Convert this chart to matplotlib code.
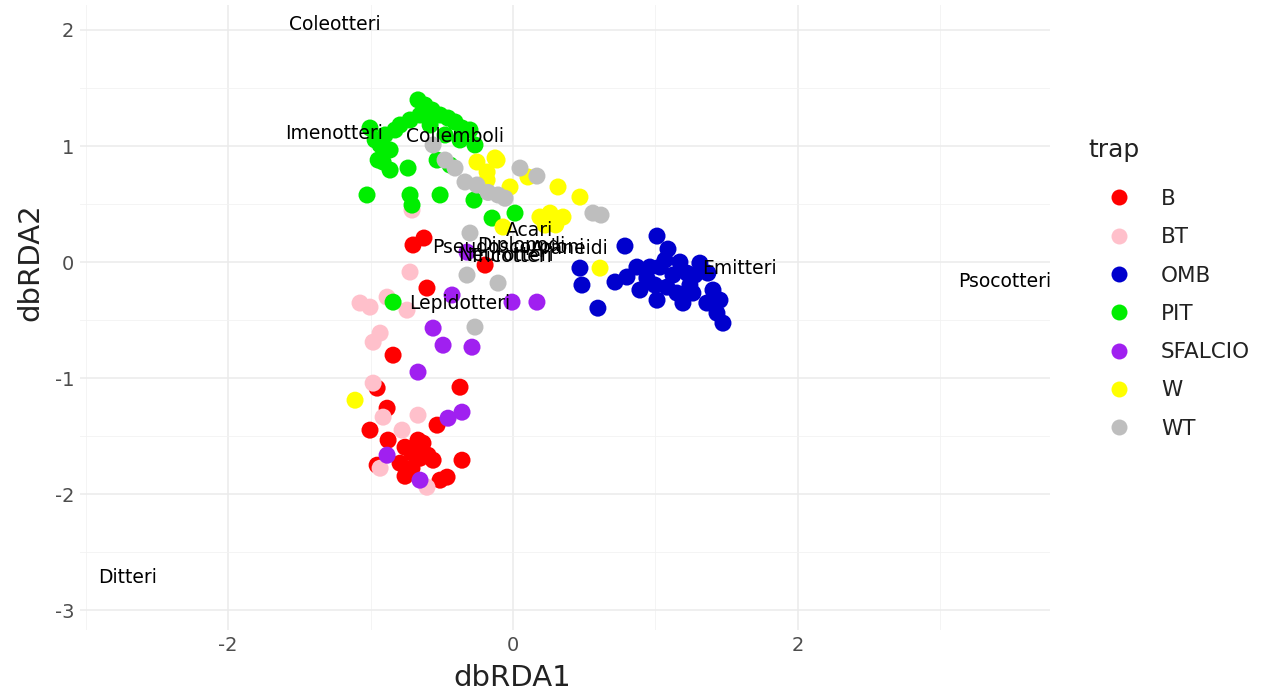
import matplotlib
matplotlib.use('Agg')
from matplotlib import pyplot as plt
from matplotlib.lines import Line2D

plt.rcParams['axes.unicode_minus'] = False

# ============================================================
# DONNEES (scores dbRDA)
# ============================================================
B_x = [-0.702, -0.625, -0.196, -0.604, -0.842, -0.954, -0.372, -0.884, -1.004, -0.533,
       -0.877, -0.758, -0.709, -0.632, -0.596, -0.793, -0.709, -0.758, -0.561, -0.463,
       -0.358, -0.512, -0.954, -0.667, -0.653]
B_y = [0.147, 0.207, -0.026, -0.224, -0.802, -1.086, -1.078, -1.259, -1.448, -1.405,
       -1.534, -1.595, -1.647, -1.560, -1.664, -1.733, -1.776, -1.845, -1.707, -1.853,
       -1.707, -1.879, -1.750, -1.534, -1.690]

BT_x = [-0.723, -1.074, -1.004, -0.884, -0.744, -0.933, -0.982, -0.982, -0.667, -0.912,
        -0.779, -0.933, -0.604, -0.709]
BT_y = [-0.086, -0.353, -0.388, -0.302, -0.414, -0.612, -0.690, -1.043, -1.319, -1.336,
        -1.448, -1.776, -1.940, 0.448]

OMB_x = [0.786, 1.011, 1.088, 0.470, 0.484, 0.596, 0.716, 0.800, 0.870, 0.940,
         0.961, 1.032, 1.123, 0.891, 1.011, 1.151, 1.221, 1.312, 1.368, 1.404,
         1.361, 1.453, 1.432, 1.474, 1.263, 1.193, 1.081, 1.067, 1.172, 1.277,
         0.996, 1.242]
OMB_y = [0.138, 0.224, 0.112, -0.052, -0.198, -0.397, -0.172, -0.129, -0.043, -0.138,
         -0.043, -0.043, -0.112, -0.241, -0.328, -0.267, -0.095, -0.009, -0.095, -0.241,
         -0.353, -0.328, -0.440, -0.526, -0.267, -0.353, -0.216, 0.017, 0.000, -0.112,
         -0.198, -0.198]

PIT_x = [-0.667, -0.618, -0.568, -0.512, -0.456, -0.407, -0.358, -0.653, -0.723, -0.793,
         -0.828, -0.898, -1.004, -0.968, -0.933, -0.863, -0.947, -0.582, -0.477, -0.372,
         -0.302, -0.267, -0.912, -0.737, -0.533, -0.442, -1.025, -0.723, -0.709, -0.512,
         -0.274, -0.147, 0.014, -0.863, -0.842]
PIT_y = [1.397, 1.353, 1.310, 1.267, 1.241, 1.207, 1.155, 1.267, 1.224, 1.181,
         1.138, 1.095, 1.155, 1.052, 1.009, 0.966, 0.879, 1.181, 1.095, 1.052,
         1.138, 1.009, 0.862, 0.810, 0.879, 0.836, 0.578, 0.578, 0.491, 0.578,
         0.534, 0.379, 0.422, 0.793, -0.345]

SFALCIO_x = [-0.428, -0.007, 0.168, -0.561, -0.491, -0.288, -0.667, -0.456, -0.358, -0.884,
             -0.653, -0.323]
SFALCIO_y = [-0.284, -0.345, -0.345, -0.569, -0.716, -0.733, -0.948, -1.345, -1.293, -1.664,
             -1.879, 0.086]

W_x = [-0.253, -0.126, -0.182, -0.021, 0.105, 0.316, 0.470, 0.260, 0.351, 0.189,
       -0.070, -0.182, -0.112, 0.225, 0.611, -1.109, 0.300]
W_y = [0.862, 0.897, 0.707, 0.647, 0.733, 0.647, 0.560, 0.422, 0.388, 0.388,
       0.302, 0.776, 0.879, 0.319, -0.052, -1.190, 0.320]

WT_x = [-0.561, -0.477, -0.407, -0.337, -0.253, -0.105, 0.049, 0.168, 0.561, 0.618,
        -0.302, -0.323, -0.105, -0.267, -0.175, -0.056]
WT_y = [1.009, 0.879, 0.810, 0.690, 0.664, 0.578, 0.810, 0.741, 0.422, 0.405,
        0.250, -0.112, -0.181, -0.560, 0.600, 0.550]

traps = ['B', 'BT', 'OMB', 'PIT', 'SFALCIO', 'W', 'WT']
trap_x = [B_x, BT_x, OMB_x, PIT_x, SFALCIO_x, W_x, WT_x]
trap_y = [B_y, BT_y, OMB_y, PIT_y, SFALCIO_y, W_y, WT_y]
trap_colors = ['#FF0000', '#FFC0CB', '#0000CD', '#00EE00', '#A020F0', '#FFFF00', '#BEBEBE']

# taxons (fleches dbRDA)
taxa = ['Coleotteri', 'Imenotteri', 'Collemboli', 'Acari', 'Pseudoscorpioni', 'Diplopodi',
        'Araneidi', 'Tricotteri', 'Neurotteri', 'Lepidotteri', 'Emitteri', 'Psocotteri', 'Ditteri']
taxa_x = [-1.249, -1.256, -0.407, 0.119, -0.03, 0.06, 0.40, -0.02, -0.05, -0.372, 1.593, 3.45, -2.709]
taxa_y = [2.043, 1.112, 1.078, 0.276, 0.125, 0.14, 0.12, 0.045, 0.06, -0.353, -0.052, -0.164, -2.716]

# ============================================================
# FIGURE
# ============================================================
fig = plt.figure(figsize=(12.76, 6.98), dpi=100)
ax = fig.add_axes([80 / 1276, 68 / 698, 970 / 1276, 625 / 698])

for i in range(len(traps)):
    ax.scatter(trap_x[i], trap_y[i], s=150, color=trap_colors[i], edgecolors='none', zorder=3)

for i in range(len(taxa)):
    ax.text(taxa_x[i], taxa_y[i], taxa[i], fontsize=13.5, color='black',
            ha='center', va='center', zorder=4, clip_on=True)

ax.set_xlim(-3.04, 3.77)
ax.set_ylim(-3.17, 2.215)
ax.set_xticks([-2, 0, 2])
ax.set_yticks([-3, -2, -1, 0, 1, 2])
ax.set_xticks([-3, -1, 1, 3], minor=True)
ax.set_yticks([-2.5, -1.5, -0.5, 0.5, 1.5], minor=True)
ax.grid(which='major', color='#EBEBEB', linewidth=1.1, zorder=0)
ax.grid(which='minor', color='#F2F2F2', linewidth=0.6, zorder=0)
ax.set_axisbelow(True)
for sp in ax.spines.values():
    sp.set_visible(False)
ax.tick_params(which='both', length=0, labelsize=14, labelcolor='#4D4D4D', pad=4)

ax.set_xlabel('dbRDA1', fontsize=21, color='#222222')
ax.set_ylabel('dbRDA2', fontsize=21, color='#222222')
ax.xaxis.set_label_coords((512 - 80) / 970, (630 - 664) / 625)
ax.yaxis.set_label_coords((44 - 80) / 970, (630 - 262) / 625)

# legende
fig.text(1088 / 1276, 1 - 150 / 698, 'trap', fontsize=18, color='#222222', ha='left', va='center')
handles = []
for i in range(len(traps)):
    handles.append(Line2D([], [], marker='o', linestyle='none', markersize=11.5,
                          markerfacecolor=trap_colors[i], markeredgecolor='none'))
leg = fig.legend(handles, traps, loc='upper left', bbox_to_anchor=(1103 / 1276, 1 - 189 / 698),
                 frameon=False, fontsize=15.5, labelspacing=0.85, handletextpad=1.2,
                 handlelength=1.5, borderaxespad=0, borderpad=0)
for t in leg.get_texts():
    t.set_color('#222222')

plt.savefig('out.png', dpi=100)
